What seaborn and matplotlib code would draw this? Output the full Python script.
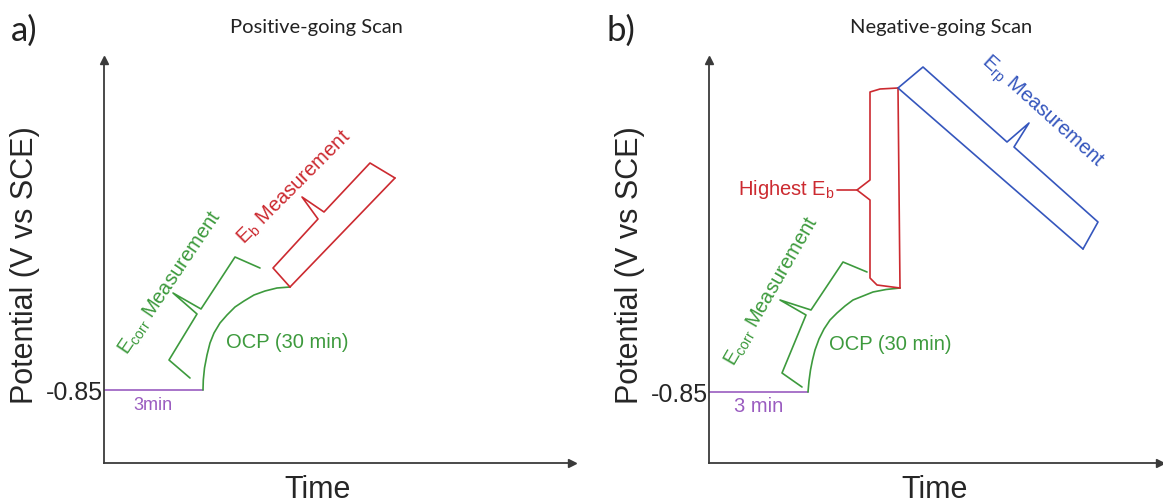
import matplotlib
matplotlib.use("Agg")
import matplotlib.pyplot as plt
import seaborn as sns
import pandas as pd

# ---------------- data (schematic units: time, potential) ----------------
# Panel a: positive-going scan
A_HOLD_T = [0, 99]
A_HOLD_E = [73, 73]
A_OCP_T = [99, 99.3, 100.5, 103, 106, 110, 116, 123, 131, 140, 150, 161, 173, 186]
A_OCP_E = [73, 83, 95, 108, 120, 130, 140, 148, 156, 162, 168, 172, 175, 176]
A_SCAN_T = [186, 291]
A_SCAN_E = [176, 285]
A_ECORR_BR_T = [86, 65, 93, 69, 97, 131, 156]
A_ECORR_BR_E = [85, 103, 149, 170, 154, 206, 195]
A_EB_BR_T = [186, 169, 214, 198, 220, 266, 291]
A_EB_BR_E = [176, 195, 244, 266, 251, 300, 285]

# Panel b: negative-going scan
B_HOLD_T = [0, 99]
B_HOLD_E = [71, 71]
B_OCP_T = [99, 100, 101.5, 103.5, 106, 110, 115, 121, 128, 136, 144, 154, 164, 177, 191]
B_OCP_E = [71, 82, 93, 103, 113, 124, 134, 143, 150, 157, 163, 167, 171, 173.5, 175]
B_STEP_T = [191, 189]
B_STEP_E = [175, 375]
B_REV_T = [189, 374]
B_REV_E = [375, 214]
B_ECORR_BR_T = [93, 73, 97, 71, 102, 134, 158]
B_ECORR_BR_E = [76, 90, 148, 163, 153, 201, 191]
B_EB_BR_T = [191, 168, 161, 161, 148, 161, 161, 171, 189]
B_EB_BR_E = [175, 178, 185, 263, 273, 283, 371, 374, 375]
B_LEADER_T = [128, 148]
B_LEADER_E = [273, 273]
B_ERP_BR_T = [189, 214, 298, 320, 305, 389, 374]
B_ERP_BR_E = [375, 396, 321, 340, 316, 241, 214]

TICK_LABEL = "-0.85"
PANEL_TITLES = ["Positive-going Scan", "Negative-going Scan"]
PANEL_TAGS = ["a)", "b)"]

GREEN = "#3d9a3d"
RED = "#cc2a30"
BLUE = "#3556bd"
PURPLE = "#9a5cc0"
AXC = "#3a3a3a"

sns.set_theme(style="white")
plt.rcParams["font.family"] = ["Liberation Sans", "DejaVu Sans"]
plt.rcParams["mathtext.fontset"] = "custom"
plt.rcParams["mathtext.rm"] = "Liberation Sans"
plt.rcParams["mathtext.it"] = "Liberation Sans:italic"

fig = plt.figure(figsize=(11.63, 5.04), dpi=100)
axA = fig.add_axes([104 / 1163, 41 / 504, 468 / 1163, 403 / 504])
axB = fig.add_axes([709 / 1163, 41 / 504, 451 / 1163, 403 / 504])
axA.set_xlim(0, 468)
axA.set_ylim(0, 403)
axB.set_xlim(0, 451)
axB.set_ylim(0, 403)


def line(ax, t, e, color, lw=1.2):
    df = pd.DataFrame({"t": t, "E": e})
    sns.lineplot(data=df, x="t", y="E", sort=False, estimator=None, color=color,
                 lw=lw, ax=ax, solid_joinstyle="round", solid_capstyle="round")


for ax, lvl in ((axA, A_HOLD_E[0]), (axB, B_HOLD_E[0])):
    for s in ("top", "right"):
        ax.spines[s].set_visible(False)
    for s in ("left", "bottom"):
        ax.spines[s].set_color(AXC)
        ax.spines[s].set_linewidth(1.3)
    ax.plot(1, 0, ">", transform=ax.transAxes, color=AXC, ms=6, clip_on=False)
    ax.plot(0, 1, "^", transform=ax.transAxes, color=AXC, ms=6, clip_on=False)
    ax.set_xticks([])
    ax.set_yticks([lvl])
    ax.set_yticklabels([TICK_LABEL], fontsize=18)
    ax.tick_params(axis="y", length=0, pad=1)
    ax.set_ylabel("Potential (V vs SCE)", fontsize=22)
    ax.set_xlabel("Time", fontsize=22)

axA.yaxis.set_label_coords((40 - 104) / 468, 0.49)
axB.yaxis.set_label_coords((645 - 709) / 451, 0.49)
axA.xaxis.set_label_coords(0.457, -0.03)
axB.xaxis.set_label_coords(0.50, -0.03)

# panel a
line(axA, A_HOLD_T, A_HOLD_E, PURPLE)
line(axA, A_OCP_T, A_OCP_E, GREEN)
line(axA, A_SCAN_T, A_SCAN_E, RED)
line(axA, A_ECORR_BR_T, A_ECORR_BR_E, GREEN)
line(axA, A_EB_BR_T, A_EB_BR_E, RED)

fs = 14.5
axA.text(49, 57, "3min", color=PURPLE, fontsize=13, ha="center", va="center")
axA.text(183, 120, "OCP (30 min)", color=GREEN, fontsize=fs, ha="center", va="center")
axA.text(66, 180, r"E$_{\mathrm{corr}}$ Measurement", color=GREEN, fontsize=fs,
         rotation=56, rotation_mode="anchor", ha="center", va="center")
axA.text(190, 275, r"E$_{\mathrm{b}}$ Measurement", color=RED, fontsize=fs,
         rotation=45, rotation_mode="anchor", ha="center", va="center")

# panel b
line(axB, B_HOLD_T, B_HOLD_E, PURPLE)
line(axB, B_OCP_T, B_OCP_E, GREEN)
line(axB, B_STEP_T, B_STEP_E, RED)
line(axB, B_REV_T, B_REV_E, BLUE)
line(axB, B_ECORR_BR_T, B_ECORR_BR_E, GREEN)
line(axB, B_EB_BR_T, B_EB_BR_E, RED)
line(axB, B_LEADER_T, B_LEADER_E, RED)
line(axB, B_ERP_BR_T, B_ERP_BR_E, BLUE)

axB.text(50, 57, "3 min", color=PURPLE, fontsize=fs, ha="center", va="center")
axB.text(181, 119, "OCP (30 min)", color=GREEN, fontsize=fs, ha="center", va="center")
axB.text(63, 171, r"E$_{\mathrm{corr}}$ Measurement", color=GREEN, fontsize=fs,
         rotation=60, rotation_mode="anchor", ha="center", va="center")
axB.text(126, 273, r"Highest E$_{\mathrm{b}}$", color=RED, fontsize=fs,
         ha="right", va="center")
axB.text(333, 351, r"E$_{\mathrm{rp}}$ Measurement", color=BLUE, fontsize=fs,
         rotation=-42, rotation_mode="anchor", ha="center", va="center")

# titles and tags
tfont = ["Lato", "DejaVu Sans"]
fig.text(316 / 1163, 1 - 27 / 504, PANEL_TITLES[0], fontsize=14.5, family=tfont,
         ha="center", va="center", color="#222222")
fig.text(941 / 1163, 1 - 27 / 504, PANEL_TITLES[1], fontsize=14.5, family=tfont,
         ha="center", va="center", color="#222222")
fig.text(24 / 1163, 1 - 31 / 504, PANEL_TAGS[0], fontsize=25, family=tfont,
         ha="center", va="center", color="#222222")
fig.text(621 / 1163, 1 - 31 / 504, PANEL_TAGS[1], fontsize=25, family=tfont,
         ha="center", va="center", color="#222222")

fig.savefig("out.png", dpi=100)
